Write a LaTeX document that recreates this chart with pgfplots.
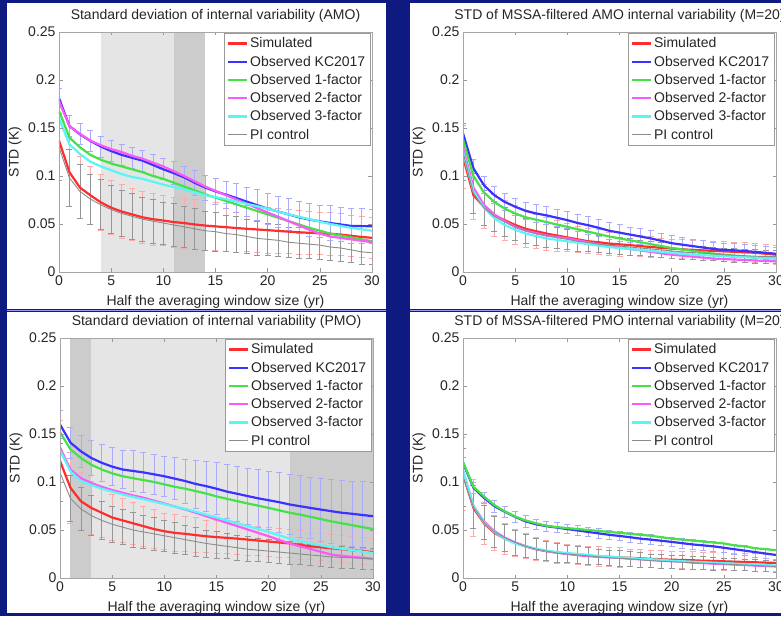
\documentclass[border=0pt]{standalone}
\usepackage{fontspec}
\setmainfont{Liberation Sans}
\usepackage{pgfplots}
\usepackage{pgfplotstable}
\pgfplotsset{compat=1.18}

\definecolor{bgblue}{RGB}{14,26,128}
\definecolor{cRed}{RGB}{255,45,45}
\definecolor{cBlue}{RGB}{60,50,255}
\definecolor{cGreen}{RGB}{70,225,70}
\definecolor{cMag}{RGB}{250,90,250}
\definecolor{cCyan}{RGB}{90,245,245}
\definecolor{cGray}{RGB}{140,140,140}
\definecolor{bRed}{RGB}{255,170,170}
\definecolor{bBlue}{RGB}{170,170,255}
\definecolor{bGray}{RGB}{150,150,150}
\definecolor{shL}{RGB}{229,229,229}
\definecolor{shD}{RGB}{204,204,204}

\newcommand{\fs}{\fontsize{14}{15.5}\selectfont}

% x s sE k kE a(1-factor) b(2-factor) c(3-factor) p pE
\pgfplotstableread{
x s sE k kE a b c p pE
0 0.137 0.042 0.181 0.010 0.168 0.178 0.160 0.130 0.035
1 0.104 0.036 0.152 0.011 0.140 0.152 0.133 0.098 0.030
2 0.088 0.032 0.1435 0.011 0.130 0.144 0.123 0.084 0.028
3 0.080 0.030 0.1366 0.011 0.122 0.137 0.115 0.076 0.026
4 0.0726 0.029 0.1307 0.011 0.117 0.132 0.110 0.070 0.026
5 0.067 0.028 0.126 0.011 0.113 0.128 0.106 0.065 0.025
6 0.063 0.028 0.122 0.011 0.110 0.125 0.102 0.061 0.024
7 0.060 0.027 0.119 0.011 0.107 0.121 0.099 0.058 0.024
8 0.057 0.027 0.116 0.011 0.104 0.118 0.097 0.055 0.023
9 0.055 0.027 0.1115 0.011 0.100 0.114 0.094 0.053 0.023
10 0.0536 0.026 0.107 0.011 0.097 0.110 0.091 0.051 0.022
11 0.052 0.026 0.103 0.012 0.093 0.105 0.0885 0.049 0.022
12 0.051 0.026 0.0985 0.012 0.089 0.100 0.086 0.047 0.021
13 0.0495 0.026 0.093 0.013 0.085 0.0945 0.083 0.045 0.021
14 0.0484 0.026 0.088 0.013 0.081 0.089 0.080 0.043 0.020
15 0.0475 0.025 0.084 0.014 0.0775 0.0845 0.078 0.042 0.020
16 0.0467 0.025 0.0806 0.014 0.074 0.080 0.076 0.040 0.019
17 0.0458 0.025 0.077 0.015 0.0705 0.0755 0.0735 0.039 0.019
18 0.045 0.024 0.0733 0.015 0.067 0.071 0.071 0.037 0.018
19 0.0443 0.024 0.0696 0.016 0.0635 0.0665 0.0685 0.035 0.018
20 0.0436 0.024 0.066 0.016 0.060 0.062 0.066 0.034 0.017
21 0.0428 0.023 0.063 0.016 0.0565 0.0575 0.063 0.033 0.017
22 0.042 0.023 0.060 0.017 0.053 0.053 0.060 0.031 0.016
23 0.0414 0.023 0.057 0.017 0.0495 0.0485 0.0575 0.030 0.016
24 0.0408 0.022 0.0546 0.017 0.046 0.044 0.055 0.029 0.015
25 0.0403 0.022 0.0528 0.017 0.043 0.040 0.0525 0.028 0.015
26 0.0398 0.022 0.051 0.018 0.040 0.037 0.050 0.026 0.014
27 0.039 0.022 0.0495 0.018 0.038 0.0355 0.048 0.025 0.014
28 0.0377 0.021 0.048 0.018 0.036 0.034 0.046 0.023 0.013
29 0.0365 0.021 0.0478 0.018 0.034 0.0325 0.0445 0.021 0.013
30 0.0356 0.021 0.0477 0.018 0.032 0.031 0.043 0.020 0.012
}\dataA

\pgfplotstableread{
x s sE k kE a b c p pE
0 0.120 0.033 0.1445 0.008 0.138 0.130 0.125 0.125 0.030
1 0.080 0.025 0.108 0.009 0.100 0.088 0.084 0.082 0.021
2 0.068 0.023 0.0905 0.009 0.083 0.070 0.067 0.067 0.018
3 0.059 0.022 0.080 0.009 0.073 0.060 0.056 0.058 0.016
4 0.054 0.021 0.073 0.009 0.066 0.053 0.049 0.052 0.015
5 0.049 0.020 0.068 0.009 0.061 0.047 0.044 0.047 0.014
6 0.045 0.019 0.0637 0.009 0.057 0.043 0.040 0.043 0.013
7 0.0425 0.018 0.061 0.009 0.0545 0.0405 0.0375 0.040 0.012
8 0.040 0.017 0.059 0.009 0.052 0.038 0.035 0.038 0.012
9 0.038 0.016 0.0565 0.009 0.0495 0.0365 0.0335 0.036 0.011
10 0.036 0.015 0.054 0.009 0.047 0.035 0.032 0.034 0.010
11 0.034 0.014 0.051 0.009 0.0445 0.033 0.0305 0.032 0.010
12 0.032 0.013 0.0487 0.009 0.042 0.031 0.029 0.031 0.010
13 0.031 0.013 0.046 0.009 0.0395 0.029 0.0275 0.029 0.009
14 0.0296 0.012 0.043 0.009 0.037 0.027 0.026 0.028 0.009
15 0.0288 0.012 0.041 0.009 0.035 0.0255 0.025 0.027 0.009
16 0.028 0.011 0.039 0.008 0.033 0.024 0.024 0.026 0.009
17 0.027 0.011 0.037 0.008 0.031 0.0225 0.023 0.025 0.008
18 0.026 0.011 0.035 0.008 0.029 0.021 0.022 0.024 0.008
19 0.0252 0.010 0.0325 0.008 0.027 0.0195 0.021 0.023 0.008
20 0.0244 0.010 0.030 0.008 0.025 0.018 0.020 0.022 0.008
21 0.0237 0.010 0.0285 0.008 0.0235 0.017 0.019 0.021 0.008
22 0.023 0.010 0.027 0.007 0.022 0.016 0.018 0.020 0.007
23 0.0225 0.010 0.0255 0.007 0.0205 0.015 0.0175 0.0195 0.007
24 0.022 0.010 0.024 0.007 0.019 0.014 0.017 0.019 0.007
25 0.0215 0.010 0.023 0.007 0.018 0.0135 0.0165 0.018 0.007
26 0.021 0.010 0.0226 0.007 0.017 0.013 0.016 0.0175 0.007
27 0.0205 0.010 0.0218 0.007 0.016 0.0125 0.0155 0.017 0.007
28 0.020 0.010 0.021 0.007 0.015 0.012 0.015 0.0165 0.007
29 0.019 0.010 0.020 0.007 0.0145 0.0115 0.0145 0.016 0.007
30 0.018 0.010 0.019 0.007 0.014 0.011 0.014 0.016 0.007
}\dataB

\pgfplotstableread{
x s sE k kE a b c p pE
0 0.122 0.042 0.160 0.015 0.152 0.136 0.133 0.110 0.030
1 0.094 0.037 0.141 0.016 0.134 0.113 0.111 0.083 0.024
2 0.080 0.030 0.132 0.017 0.125 0.104 0.101 0.072 0.022
3 0.073 0.028 0.125 0.018 0.118 0.099 0.097 0.065 0.021
4 0.068 0.026 0.120 0.019 0.113 0.095 0.093 0.060 0.020
5 0.063 0.024 0.116 0.020 0.109 0.0916 0.090 0.056 0.019
6 0.060 0.023 0.113 0.020 0.106 0.0888 0.087 0.053 0.018
7 0.057 0.022 0.1115 0.021 0.104 0.086 0.0845 0.050 0.018
8 0.054 0.021 0.110 0.021 0.102 0.0836 0.082 0.048 0.017
9 0.051 0.020 0.108 0.021 0.100 0.0806 0.0795 0.046 0.017
10 0.0487 0.019 0.106 0.021 0.0975 0.0776 0.077 0.044 0.016
11 0.047 0.019 0.1035 0.022 0.095 0.0745 0.0745 0.042 0.016
12 0.046 0.018 0.101 0.023 0.093 0.0714 0.072 0.040 0.015
13 0.0447 0.018 0.098 0.025 0.0905 0.068 0.069 0.038 0.015
14 0.0435 0.017 0.0957 0.026 0.088 0.0644 0.066 0.036 0.014
15 0.0426 0.017 0.093 0.027 0.085 0.061 0.063 0.0345 0.014
16 0.0418 0.016 0.090 0.028 0.0825 0.0575 0.060 0.033 0.013
17 0.041 0.016 0.0877 0.029 0.080 0.054 0.057 0.0315 0.013
18 0.040 0.016 0.0853 0.029 0.0776 0.0505 0.054 0.030 0.013
19 0.039 0.015 0.083 0.030 0.0753 0.047 0.051 0.029 0.012
20 0.038 0.015 0.081 0.030 0.073 0.0435 0.048 0.028 0.012
21 0.037 0.015 0.079 0.031 0.0705 0.0397 0.0445 0.027 0.012
22 0.036 0.015 0.0766 0.031 0.068 0.0359 0.041 0.026 0.012
23 0.0345 0.015 0.0748 0.032 0.066 0.033 0.0385 0.025 0.011
24 0.033 0.014 0.073 0.032 0.0637 0.0303 0.036 0.024 0.011
25 0.032 0.014 0.0713 0.033 0.0614 0.0273 0.034 0.023 0.011
26 0.031 0.014 0.0696 0.033 0.059 0.0244 0.032 0.022 0.011
27 0.030 0.014 0.068 0.034 0.057 0.023 0.0305 0.0215 0.011
28 0.029 0.014 0.0669 0.034 0.055 0.022 0.029 0.021 0.011
29 0.028 0.014 0.0656 0.035 0.053 0.021 0.0275 0.0205 0.011
30 0.027 0.014 0.0644 0.035 0.051 0.020 0.026 0.020 0.011
}\dataC

\pgfplotstableread{
x s sE k kE a b c p pE
0 0.108 0.038 0.120 0.006 0.121 0.112 0.112 0.105 0.030
1 0.073 0.030 0.094 0.006 0.095 0.075 0.075 0.074 0.022
2 0.057 0.022 0.0836 0.006 0.085 0.059 0.058 0.058 0.018
3 0.047 0.018 0.0749 0.006 0.076 0.049 0.048 0.048 0.016
4 0.041 0.016 0.069 0.006 0.0695 0.042 0.041 0.042 0.014
5 0.0366 0.014 0.0637 0.006 0.064 0.037 0.036 0.037 0.013
6 0.033 0.013 0.059 0.006 0.060 0.033 0.033 0.033 0.012
7 0.030 0.012 0.056 0.005 0.057 0.030 0.0305 0.030 0.011
8 0.028 0.011 0.054 0.005 0.0545 0.028 0.0285 0.028 0.010
9 0.0265 0.011 0.0525 0.005 0.053 0.0265 0.027 0.026 0.010
10 0.0254 0.010 0.051 0.005 0.052 0.025 0.026 0.025 0.009
11 0.024 0.010 0.0495 0.005 0.051 0.024 0.025 0.024 0.009
12 0.023 0.010 0.048 0.005 0.050 0.023 0.024 0.023 0.009
13 0.0225 0.010 0.0465 0.005 0.049 0.022 0.023 0.022 0.008
14 0.022 0.010 0.045 0.005 0.048 0.0215 0.022 0.021 0.008
15 0.0215 0.010 0.0438 0.005 0.047 0.021 0.0215 0.0205 0.008
16 0.021 0.009 0.0425 0.005 0.046 0.020 0.021 0.020 0.008
17 0.0205 0.009 0.041 0.005 0.045 0.0195 0.020 0.019 0.008
18 0.020 0.009 0.040 0.005 0.044 0.019 0.0195 0.018 0.007
19 0.0195 0.009 0.0388 0.005 0.0425 0.018 0.019 0.0175 0.007
20 0.019 0.009 0.0376 0.005 0.041 0.0175 0.018 0.017 0.007
21 0.0188 0.009 0.0363 0.005 0.040 0.017 0.0175 0.0165 0.007
22 0.0185 0.009 0.035 0.005 0.039 0.016 0.017 0.016 0.007
23 0.018 0.009 0.034 0.005 0.038 0.0155 0.0165 0.0155 0.007
24 0.0178 0.009 0.033 0.005 0.037 0.015 0.016 0.015 0.007
25 0.0174 0.009 0.0315 0.005 0.036 0.0145 0.0155 0.0145 0.006
26 0.017 0.009 0.030 0.005 0.034 0.014 0.015 0.014 0.006
27 0.0167 0.009 0.0285 0.005 0.033 0.0135 0.0145 0.0135 0.006
28 0.0164 0.009 0.027 0.005 0.031 0.013 0.014 0.013 0.006
29 0.016 0.009 0.0255 0.005 0.030 0.0125 0.0135 0.0125 0.006
30 0.0157 0.009 0.024 0.005 0.029 0.012 0.013 0.012 0.006
}\dataD

\pgfplotsset{
 panel/.style={
  scale only axis, width=313pt, height=240pt, anchor=south west,
  xmin=0, xmax=30, ymin=0, ymax=0.25,
  xtick={0,5,10,15,20,25,30},
  xticklabels={0,5,10,15,20,25,30},
  ytick={0,0.05,0.1,0.15,0.2,0.25},
  yticklabels={0,0.05,0.1,0.15,0.2,0.25},
  tick align=inside, major tick length=3.5pt,
  tick style={color=black!40, line width=0.5pt},
  axis line style={color=black!35, line width=0.6pt},
  axis on top,
  /pgf/number format/assume math mode=true,
  tick label style={font=\fs, text=black!85},
  label style={font=\fs, text=black!85},
  xlabel={Half the averaging window size (yr)},
  ylabel={STD (K)},
  xlabel style={at={([yshift=-30pt]rel axis cs:0.5,0)}, anchor=center},
  ylabel style={at={([xshift=-44pt]rel axis cs:0,0.5)}, anchor=center},
  title style={at={([yshift=10pt]rel axis cs:0.5,1)}, anchor=center, font=\fs, text=black!85},
  legend style={at={(rel axis cs:1,1)}, anchor=north east, xshift=-2pt, yshift=-1pt,
    draw=black!40, fill=white, font=\fs, row sep=2.6pt, inner sep=2.5pt, text=black!85},
  legend cell align=left,
  legend image code/.code={\draw[##1] (0pt,0pt) -- (19pt,0pt);},
 },
 ebar/.style={draw=none, mark=none, forget plot,
   error bars/.cd, y dir=both, y explicit,
   error bar style={draw=#1, line width=0.7pt},
   error mark options={draw=#1, rotate=90, mark size=3pt, line width=0.7pt}},
}

\newcommand{\panelplots}[1]{%
 \addplot[ebar=bRed] table[x=x,y=s,y error=sE]{#1};
 \addplot[ebar=bGray] table[x=x,y=p,y error=pE]{#1};
 \addplot[ebar=bBlue] table[x=x,y=k,y error=kE]{#1};
 \addplot[cRed, line width=2.2pt] table[x=x,y=s]{#1};
 \addplot[cBlue, line width=2.2pt] table[x=x,y=k]{#1};
 \addplot[cGreen, line width=2.2pt] table[x=x,y=a]{#1};
 \addplot[cMag, line width=2.2pt] table[x=x,y=b]{#1};
 \addplot[cCyan, line width=2.2pt] table[x=x,y=c]{#1};
 \addplot[cGray, line width=0.9pt] table[x=x,y=p]{#1};
 \legend{Simulated, Observed KC2017, Observed 1-factor, Observed 2-factor, Observed 3-factor, PI control}
}

\begin{document}
\begin{tikzpicture}[x=1pt,y=1pt]
\useasboundingbox (0,0) rectangle (781,616);
\clip (0,0) rectangle (781,616);
\fill[bgblue] (0,0) rectangle (781,616);
\fill[white] (7,307) rectangle (386,613);
\fill[white] (410,307) rectangle (781,613);
\fill[white] (7,3) rectangle (386,304);
\fill[white] (410,3) rectangle (781,304);
\draw[blue!40, line width=0.8pt] (7,305.5) -- (386,305.5);
\draw[blue!40, line width=0.8pt] (410,305.5) -- (781,305.5);

% top left
\begin{axis}[panel, at={(59pt,344pt)}, title={Standard deviation of internal variability (AMO)}]
\fill[shL] (axis cs:4,0) rectangle (axis cs:11,0.25);
\fill[shD] (axis cs:11,0) rectangle (axis cs:14,0.25);
\panelplots{\dataA}
\end{axis}

% top right
\begin{axis}[panel, at={(463pt,344pt)}, title={STD of MSSA-filtered AMO internal variability (M=20)}]
\panelplots{\dataB}
\end{axis}

% bottom left
\begin{axis}[panel, at={(60pt,38pt)}, title={Standard deviation of internal variability (PMO)}]
\fill[shD] (axis cs:1,0) rectangle (axis cs:3,0.25);
\fill[shL] (axis cs:3,0) rectangle (axis cs:22,0.25);
\fill[shD] (axis cs:22,0) rectangle (axis cs:30,0.25);
\panelplots{\dataC}
\end{axis}

% bottom right
\begin{axis}[panel, at={(463pt,38pt)}, title={STD of MSSA-filtered PMO internal variability (M=20)}]
\panelplots{\dataD}
\end{axis}
\end{tikzpicture}
\end{document}
